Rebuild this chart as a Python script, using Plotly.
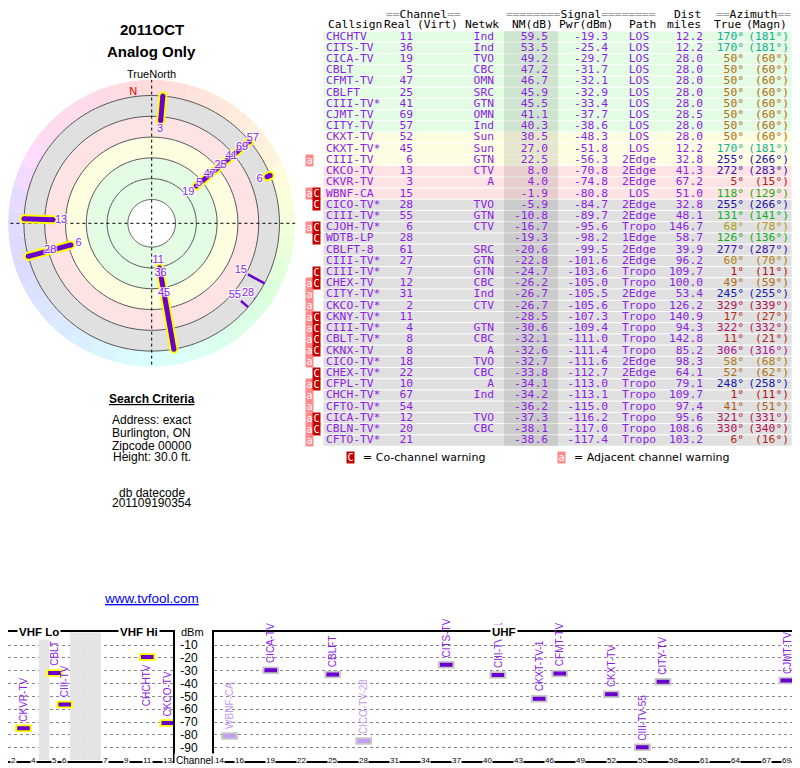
import plotly.graph_objects as go

# ---- signal analysis table (rows sorted by noise margin) ----
callsigns = ['CHCHTV', 'CITS-TV', 'CICA-TV', 'CBLT', 'CFMT-TV', 'CBLFT', 'CIII-TV*', 'CJMT-TV', 'CITY-TV',
             'CKXT-TV', 'CKXT-TV*', 'CIII-TV', 'CKCO-TV', 'CKVR-TV', 'WBNF-CA', 'CICO-TV*', 'CIII-TV*',
             'CJOH-TV*', 'WDTB-LP', 'CBLFT-8', 'CIII-TV*', 'CIII-TV*', 'CHEX-TV', 'CITY-TV*', 'CKCO-TV*',
             'CKNY-TV*', 'CIII-TV*', 'CBLT-TV*', 'CKNX-TV', 'CICO-TV*', 'CHEX-TV*', 'CFPL-TV', 'CHCH-TV*',
             'CFTO-TV*', 'CICA-TV*', 'CBLN-TV*', 'CFTO-TV*']
real_ch = [11, 36, 19, 5, 47, 25, 41, 69, 57, 52, 45, 6, 13, 3, 15, 28, 55, 6, 28, 61, 27, 7, 12, 31, 2,
           11, 4, 8, 8, 18, 22, 10, 67, 54, 12, 20, 21]
netwk = ['Ind', 'Ind', 'TVO', 'CBC', 'OMN', 'SRC', 'GTN', 'OMN', 'Ind', 'Sun', 'Sun', 'GTN', 'CTV', 'A', '',
         'TVO', 'GTN', 'CTV', '', 'SRC', 'GTN', 'GTN', 'CBC', 'Ind', 'CTV', '', 'GTN', 'CBC', 'A', 'TVO',
         'CBC', 'A', 'Ind', '', 'TVO', 'CBC', '']
nm_db = [59.5, 53.5, 49.2, 47.2, 46.7, 45.9, 45.5, 41.1, 40.3, 30.5, 27.0, 22.5, 8.0, 4.0, -1.9, -5.9,
         -10.8, -16.7, -19.3, -20.6, -22.8, -24.7, -26.2, -26.7, -26.7, -28.5, -30.6, -32.1, -32.6, -32.7,
         -33.8, -34.1, -34.2, -36.2, -37.3, -38.1, -38.6]
pwr_dbm = [-19.3, -25.4, -29.7, -31.7, -32.1, -32.9, -33.4, -37.7, -38.6, -48.3, -51.8, -56.3, -70.8, -74.8,
           -80.8, -84.7, -89.7, -95.6, -98.2, -99.5, -101.6, -103.6, -105.0, -105.5, -105.6, -107.3, -109.4,
           -111.0, -111.4, -111.6, -112.7, -113.0, -113.1, -115.0, -116.2, -117.0, -117.4]
path = ['LOS', 'LOS', 'LOS', 'LOS', 'LOS', 'LOS', 'LOS', 'LOS', 'LOS', 'LOS', 'LOS', '2Edge', '2Edge',
        '2Edge', 'LOS', '2Edge', '2Edge', 'Tropo', '1Edge', '2Edge', '2Edge', 'Tropo', 'Tropo', '2Edge',
        'Tropo', 'Tropo', 'Tropo', 'Tropo', 'Tropo', '2Edge', '2Edge', 'Tropo', 'Tropo', 'Tropo', 'Tropo',
        'Tropo', 'Tropo']
dist_mi = [12.2, 12.2, 28.0, 28.0, 28.0, 28.0, 28.0, 28.5, 28.0, 28.0, 12.2, 32.8, 41.3, 67.2, 51.0, 32.8,
           48.1, 146.7, 58.7, 39.9, 96.2, 109.7, 100.0, 53.4, 126.2, 140.9, 94.3, 142.8, 85.2, 98.3, 64.1,
           79.1, 109.7, 97.4, 95.6, 108.6, 103.2]
az_true = [170, 170, 50, 50, 50, 50, 50, 50, 50, 50, 170, 255, 272, 5, 118, 255, 131, 68, 126, 277, 60, 1,
           49, 245, 329, 17, 322, 11, 306, 58, 52, 248, 1, 41, 321, 330, 6]
az_magn = [181, 181, 60, 60, 60, 60, 60, 60, 60, 60, 181, 266, 283, 15, 129, 266, 141, 78, 136, 287, 70, 11,
           59, 255, 339, 27, 332, 21, 316, 68, 62, 258, 11, 51, 331, 340, 16]
warnings = ['', '', '', '', '', '', '', '', '', '', '', 'a', '', '', 'aC', 'C', '', 'aC', 'C', '', '', 'C',
            'aC', 'a', 'a', 'aC', 'aC', 'aC', 'aC', 'a', 'C', 'aC', 'a', 'a', 'aC', 'aC', 'a']

# ---- channel spectrum ----
vhf_names = ['CKVR-TV', 'CBLT', 'CIII-TV', 'CHCHTV', 'CKCO-TV']
vhf_ch = [3, 5, 6, 11, 13]
vhf_pwr = [-74.8, -31.7, -56.3, -19.3, -70.8]
uhf_names = ['WBNF-CA', 'CICA-TV', 'CBLFT', 'CICO-TV-28', 'CITS-TV', 'CIII-TV-41', 'CKXT-TV-1', 'CFMT-TV',
             'CKXT-TV', 'CIII-TV-55', 'CITY-TV', 'CJMT-TV']
uhf_ch = [15, 19, 25, 28, 36, 41, 45, 47, 52, 55, 57, 69]
uhf_pwr = [-80.8, -29.7, -32.9, -84.7, -25.4, -33.4, -51.8, -32.1, -48.3, -89.7, -38.6, -37.7]
vhf_slots = ['2', '3', '4', 'gap', '5', '6', 'fm1', 'fm2', 'fm3', '7', '8', '9', '10', '11', '12', '13']
vhf_ticks = ['2', '4', '5', '6', '7', '9', '11', '13']
uhf_ticks = [14, 16, 19, 22, 25, 28, 31, 34, 37, 40, 43, 46, 49, 52, 55, 58, 61, 64, 67, 69]
dbm_ticks = [-10, -20, -30, -40, -50, -60, -70, -80, -90]

PURPLE = '#6a00cc'
TXT = '#8c1ee6'
FADED = '#c49cf0'
SANS = 'Liberation Sans'
MONO = 'DejaVu Sans Mono'

# the page body adds an 8px margin, so the figure is sized to fit the window
W, H = 792, 760


def fx(X):
    return (X - 8) / W


def fy(Y):
    return 1 - (Y - 8) / H


def hue(a):
    # compass azimuth -> colour wheel hue
    pts = [(0, 0), (60, 42), (120, 120), (180, 180), (250, 240), (280, 258), (310, 322), (360, 360)]
    a = a % 360
    for (a0, h0), (a1, h1) in zip(pts, pts[1:]):
        if a0 <= a <= a1:
            return h0 + (h1 - h0) * (a - a0) / (a1 - a0)
    return a


def row_fill(nm):
    if nm >= 35:
        return '#e4fbe4'
    if nm >= 15:
        return '#fdfde2'
    if nm >= -5:
        return '#fde3e3'
    return '#e0e0e0'


fig = go.Figure()

# ================= polar plot =================
R_TOP = 35.3      # outer edge of the colour ring, in -NM units
R_CEN = -102.9    # centre of the plot
bands = [(-80, 40, '#e4fbe4'), (-40, 20, '#fdfde0'), (-20, 20, '#fde3e3'), (0, 20, '#e0e0e0')]
for base, size, c in bands:
    fig.add_trace(go.Barpolar(theta=[0], r=[size], base=[base], width=[360], marker_color=c,
                              marker_line_width=0, hoverinfo='skip'))
ring_th = list(range(0, 360, 10))
fig.add_trace(go.Barpolar(theta=ring_th, r=[R_TOP - 20] * len(ring_th), base=[20] * len(ring_th),
                          width=[10] * len(ring_th),
                          marker_color=['hsl(%d,100%%,93%%)' % hue(t) for t in ring_th],
                          marker_line_width=0, hoverinfo='skip'))
circ_th = list(range(0, 361, 2))
for v in [-80, -60, -40, -20, 0, 20]:
    fig.add_trace(go.Scatterpolar(theta=circ_th, r=[v] * len(circ_th), mode='lines',
                                  line=dict(color='#555555', width=1), hoverinfo='skip'))
for th in ([0, 180], [90, 270]):
    fig.add_trace(go.Scatterpolar(theta=th, r=[R_TOP, R_TOP], mode='lines',
                                  line=dict(color='black', width=1, dash='dot'), hoverinfo='skip'))

shown = [i for i in range(len(nm_db)) if nm_db[i] >= -20]
thick_th, thick_r, thin_th, thin_r = [], [], [], []
for i in shown:
    if real_ch[i] <= 13:
        thick_th += [az_true[i], az_true[i], None]
        thick_r += [-nm_db[i], 20, None]
    else:
        thin_th += [az_true[i], az_true[i], None]
        thin_r += [-nm_db[i], 20, None]
fig.add_trace(go.Scatterpolar(theta=thin_th, r=thin_r, mode='lines', line=dict(color=PURPLE, width=2.5),
                              hoverinfo='skip'))
fig.add_trace(go.Scatterpolar(theta=thick_th, r=thick_r, mode='lines+markers',
                              line=dict(color='#ffff00', width=9), marker=dict(color='#ffff00', size=9),
                              hoverinfo='skip'))
fig.add_trace(go.Scatterpolar(theta=thick_th, r=thick_r, mode='lines+markers',
                              line=dict(color=PURPLE, width=5), marker=dict(color=PURPLE, size=5),
                              hoverinfo='skip'))

lab_th, lab_r, lab_t = [], [], []
last = {}
for i in shown:
    a = az_true[i]
    v = -nm_db[i] - 7.7
    if a in last:
        v = max(v, last[a] + 13.5)
    last[a] = v
    lab_th.append(a)
    lab_r.append(v)
    lab_t.append(str(real_ch[i]))
halo = '1px 1px 1px white, -1px -1px 1px white, 1px -1px 1px white, -1px 1px 1px white'
fig.add_trace(go.Scatterpolar(theta=lab_th, r=lab_r, text=lab_t, mode='text',
                              textfont=dict(family=SANS, size=11, color=TXT, shadow=halo), hoverinfo='skip'))
fig.add_trace(go.Scatterpolar(theta=[352], r=[24], text=['N'], mode='text',
                              textfont=dict(family=SANS, size=11, color='#dd0000'), hoverinfo='skip'))

# ================= table =================
rows = list(range(len(callsigns)))
fig.add_trace(go.Bar(y=rows, x=[469] * len(rows), base=[323] * len(rows), orientation='h', width=1,
                     marker=dict(color=[row_fill(v) for v in nm_db], line=dict(color='white', width=0.8)),
                     hoverinfo='skip', xaxis='x', yaxis='y'))
fig.add_trace(go.Bar(y=rows, x=[54] * len(rows), base=[504] * len(rows), orientation='h', width=1,
                     marker=dict(color='rgba(0,0,0,0.09)', line=dict(width=0)),
                     hoverinfo='skip', xaxis='x', yaxis='y'))


def col(texts, x, pos, colors=TXT):
    fig.add_trace(go.Scatter(x=[x] * len(texts), y=rows, text=texts, mode='text', textposition=pos,
                             textfont=dict(family=MONO, size=11.3, color=colors), hoverinfo='skip',
                             xaxis='x', yaxis='y', cliponaxis=False))


az_cols = ['hsl(%d,80%%,38%%)' % hue(a) for a in az_true]
col(callsigns, 326, 'middle right')
col([str(c) for c in real_ch], 413, 'middle left')
col(netwk, 494, 'middle left')
col(['%.1f' % v for v in nm_db], 548, 'middle left')
col(['%.1f' % v for v in pwr_dbm], 608, 'middle left')
col(path, 639, 'middle center')
col(['%.1f' % v for v in dist_mi], 703, 'middle left')
col(['%d°' % a for a in az_true], 744, 'middle left', az_cols)
col(['(%d°)' % a for a in az_magn], 789, 'middle left', az_cols)

ann = []
G = '<span style="color:#a0a0a0">%s</span>'
hdr1 = [(G % '==' + 'Channel' + G % '==', 423, 'center'),
        (G % '========' + 'Signal' + G % '========', 581, 'center'),
        ('Dist', 703, 'right'), (G % '==' + 'Azimuth' + G % '==', 753, 'center')]
hdr2 = [('Callsign', 326, 'left'), ('Real', 413, 'right'), ('(Virt)', 460, 'right'), ('Netwk', 501, 'right'),
        ('NM(dB)', 555, 'right'), ('Pwr(dBm)', 615, 'right'), ('Path', 642, 'center'), ('miles', 703, 'right'),
        ('True', 743, 'right'), ('(Magn)', 789, 'right')]
for hdr, yy in ((hdr1, -2.0), (hdr2, -1.05)):
    for t, xx, anc in hdr:
        ann.append(dict(x=xx, y=yy, xref='x', yref='y', text=t, showarrow=False, xanchor=anc,
                        yanchor='middle', font=dict(family=MONO, size=11.3, color='black')))

badge = {'a': (309.3, '#ff8a8a'), 'C': (316.7, '#c40000')}
for r, w in zip(rows, warnings):
    for ch in w:
        bx, bc = badge[ch]
        ann.append(dict(x=bx, y=r, xref='x', yref='y', text=ch, showarrow=False, bgcolor=bc, width=7,
                        height=11, borderpad=0, font=dict(family=MONO, size=10, color='white')))
for ch, bx, label in (('C', 350, '= Co-channel warning'), ('a', 561, '= Adjacent channel warning')):
    ann.append(dict(x=bx, y=37.5, xref='x', yref='y', text=ch, showarrow=False, bgcolor=badge[ch][1],
                    width=7, height=11, borderpad=0, font=dict(family=MONO, size=10, color='white')))
    ann.append(dict(x=bx + 11, y=37.5, xref='x', yref='y', text=label, showarrow=False, xanchor='left',
                    yanchor='middle', font=dict(family='DejaVu Sans', size=11, color='black')))

# ================= channel spectrum =================
fig.add_trace(go.Bar(x=['gap', 'fm1', 'fm2', 'fm3'], y=[100] * 4, base=[-100] * 4, width=1,
                     marker=dict(color='#e4e4e4', line=dict(width=0)), hoverinfo='skip',
                     xaxis='x2', yaxis='y2'))


def faded(ch, p):
    for i in rows:
        if real_ch[i] == ch and pwr_dbm[i] == p:
            return 'C' in warnings[i]
    return False


for names, chs, pw, xa, ya, halo_col in ((vhf_names, [str(c) for c in vhf_ch], vhf_pwr, 'x2', 'y2', '#ffff00'),
                                          (uhf_names, uhf_ch, uhf_pwr, 'x3', 'y3', '#c8c8c8')):
    real = [int(c) for c in chs]
    cols = [FADED if faded(c, p) else PURPLE for c, p in zip(real, pw)]
    fig.add_trace(go.Scatter(x=chs, y=pw, mode='markers', xaxis=xa, yaxis=ya, hoverinfo='skip',
                             marker=dict(symbol='line-ew', size=12, line=dict(color=halo_col, width=7.5))))
    fig.add_trace(go.Scatter(x=chs, y=pw, mode='markers', xaxis=xa, yaxis=ya, hoverinfo='skip',
                             marker=dict(symbol='line-ew', size=9, line=dict(color=cols, width=4))))
    for n, c, p, rc in zip(names, chs, pw, real):
        xv = vhf_slots.index(c) if xa == 'x2' else c
        below = p > -22
        ann.append(dict(x=xv, y=p, xref=xa, yref=ya, text=n, textangle=-90, showarrow=False,
                        xanchor='center', yanchor='top' if below else 'bottom', yshift=-5 if below else 5,
                        font=dict(family=SANS, size=10, color=FADED if faded(rc, p) else TXT)))

for t in vhf_ticks:
    ann.append(dict(x=vhf_slots.index(t), y=0, xref='x2', yref='y2 domain', text=t, showarrow=False,
                    xanchor='center', yanchor='middle', bgcolor='white', borderpad=0,
                    font=dict(family=SANS, size=8, color='black')))
for t in uhf_ticks:
    ann.append(dict(x=t, y=0, xref='x3', yref='y3 domain', text=str(t), showarrow=False,
                    xanchor='center', yanchor='middle', bgcolor='white', borderpad=0,
                    font=dict(family=SANS, size=8, color='black')))
for t, xx in (('VHF Lo', 39), ('VHF Hi', 139), ('UHF', 504)):
    ann.append(dict(x=fx(xx), y=1, xref='paper', yref='y3 domain', text='<b>%s</b>' % t, showarrow=False,
                    xanchor='center', yanchor='middle', bgcolor='white', borderpad=1,
                    font=dict(family=SANS, size=11.5, color='black')))
ann.append(dict(x=fx(192), y=0, xref='paper', yref='y3', text='dBm', showarrow=False, xanchor='center',
                yanchor='middle', font=dict(family=SANS, size=11, color='black')))
ann.append(dict(x=fx(194), y=0, xref='paper', yref='y3 domain', text='Channel', showarrow=False,
                xanchor='center', yanchor='middle', bgcolor='white',
                font=dict(family=SANS, size=10, color='black')))

# ================= left-hand text =================
left_txt = [('<b>2011OCT</b>', 29, 15), ('<b>Analog Only</b>', 51.5, 15), ('TrueNorth', 74, 11),
            ('<b><u>Search Criteria</u></b>', 399, 12), ('Address: exact', 420, 12),
            ('Burlington, ON', 432.7, 12), ('Zipcode 00000', 445.5, 12), ('Height: 30.0 ft.', 456.7, 12),
            ('db datecode', 493, 12), ('201109190354', 503.5, 12)]
for t, yy, sz in left_txt:
    ann.append(dict(x=fx(151.5), y=fy(yy), xref='paper', yref='paper', text=t, showarrow=False,
                    xanchor='center', yanchor='middle', font=dict(family=SANS, size=sz, color='black')))
ann.append(dict(x=fx(151.5), y=fy(598), xref='paper', yref='paper', showarrow=False, xanchor='center',
                yanchor='middle', text='<u>www.tvfool.com</u>',
                font=dict(family=SANS, size=13.5, color='#0000ee')))

# table rows: row i is centred at 36.7 + 11.216 * i px
ROW0, ROWH = 36.7, 11.216
T_TOP, T_BOT = -2.55, 38.2
frame = dict(showline=True, mirror=True, linecolor='black', linewidth=2, zeroline=False,
             fixedrange=True, ticks='')
spec_y = [fy(760.6), fy(632.2)]
fig.update_layout(
    width=W, height=H, margin=dict(l=0, r=0, t=0, b=0), showlegend=False,
    paper_bgcolor='white', plot_bgcolor='rgba(0,0,0,0)', barmode='overlay',
    polar=dict(domain=dict(x=[fx(8), fx(295.4)], y=[fy(367), fy(79.6)]), bgcolor='white',
               radialaxis=dict(range=[R_CEN, R_TOP], showgrid=False, showticklabels=False, ticks='',
                               showline=False),
               angularaxis=dict(direction='clockwise', rotation=90, showgrid=False, showticklabels=False,
                                ticks='', showline=False)),
    xaxis=dict(domain=[fx(300), 1], range=[300, 800], visible=False, fixedrange=True, anchor='y'),
    yaxis=dict(domain=[fy(ROW0 + ROWH * T_BOT), fy(ROW0 + ROWH * T_TOP)], range=[T_BOT, T_TOP],
               visible=False, fixedrange=True, anchor='x'),
    xaxis2=dict(domain=[fx(8), fx(173)], anchor='y2', type='category', categoryarray=vhf_slots,
                categoryorder='array', range=[-0.5, 15.5], showticklabels=False, showgrid=False, **frame),
    yaxis2=dict(domain=spec_y, anchor='x2', range=[-100, 0], tickvals=dbm_ticks, showticklabels=False,
                showgrid=True, gridcolor='#888888', griddash='dot', gridwidth=1, **frame),
    xaxis3=dict(domain=[fx(214), fx(792)], anchor='y3', range=[13.5, 69.5], showticklabels=False,
                showgrid=False, **frame),
    yaxis3=dict(domain=spec_y, anchor='x3', range=[-100, 0], tickvals=dbm_ticks,
                ticktext=[str(v) for v in dbm_ticks], ticklabelstandoff=12,
                tickfont=dict(family=SANS, size=12, color='black'),
                showgrid=True, gridcolor='#888888', griddash='dot', gridwidth=1, **frame),
    annotations=ann,
)

fig.write_html('out.html')
